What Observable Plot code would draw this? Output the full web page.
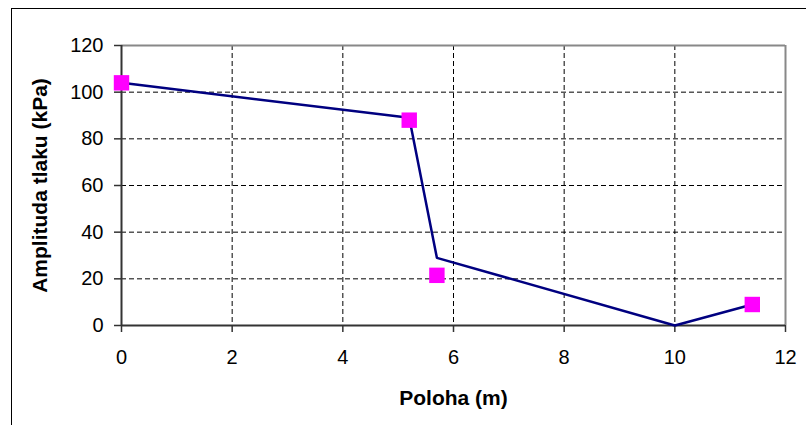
<!DOCTYPE html>
<html>
<head>
<meta charset="utf-8">
<script src="https://cdn.jsdelivr.net/npm/d3@7"></script>
<script src="https://cdn.jsdelivr.net/npm/@observablehq/plot@0.6"></script>
<style>
  html, body { margin: 0; padding: 0; background: #fff; overflow: hidden; }
  #wrap { position: relative; width: 806px; height: 425px; }
  #border { position: absolute; left: 11px; top: 8px; width: 900px; height: 600px;
            border-top: 1.5px solid #000; border-left: 1.5px solid #000; pointer-events: none; }
  g[aria-label="x-axis label"] text, g[aria-label="y-axis label"] text { font-weight: bold; font-size: 21px; }
</style>
</head>
<body>
<div id="wrap"><div id="border"></div></div>
<script>
const xTicks = [0, 2, 4, 6, 8, 10, 12];
const yTicks = [0, 20, 40, 60, 80, 100, 120];
// computed (line) series
const lineX = [0, 5.2, 5.7, 10, 11.4];
const lineY = [104, 89, 29, 0, 9];
// measured (marker) series
const markX = [0, 5.2, 5.7, 11.4];
const markY = [104, 88, 21.5, 9];

const lineData = lineX.map((x, i) => ({x, y: lineY[i]}));
const markData = markX.map((x, i) => ({x, y: markY[i]}));

const chart = Plot.plot({
  width: 806,
  height: 425,
  marginLeft: 121,
  marginRight: 21,
  marginTop: 45,
  marginBottom: 100,
  x: {domain: [0, 12]},
  y: {domain: [0, 120]},
  style: {fontFamily: "'Liberation Sans', Arial, sans-serif", fontSize: "20px", color: "#000", background: "transparent", overflow: "visible"},
  marks: [
    Plot.ruleX(xTicks.slice(1, -1), {stroke: "#000", strokeWidth: 1, strokeDasharray: "5,3"}),
    Plot.ruleY(yTicks.slice(1, -1), {stroke: "#000", strokeWidth: 1, strokeDasharray: "5,3"}),
    Plot.ruleY([120], {stroke: "#888", strokeWidth: 2}),
    Plot.ruleX([12], {stroke: "#888", strokeWidth: 2}),
    Plot.ruleX([0], {stroke: "#333", strokeWidth: 2}),
    Plot.ruleY([0], {stroke: "#333", strokeWidth: 2}),
    Plot.axisX({ticks: xTicks, tickSize: 7, tickPadding: 17, stroke: "#333", strokeWidth: 1.5,
      label: "Poloha (m)", labelAnchor: "center", labelArrow: "none", labelOffset: 79}),
    Plot.axisY({ticks: yTicks, tickSize: 7, tickPadding: 11, stroke: "#333", strokeWidth: 1.5,
      label: "Amplituda tlaku (kPa)", labelAnchor: "center", labelArrow: "none", labelOffset: 89}),
    Plot.line(lineData, {x: "x", y: "y", stroke: "#000080", strokeWidth: 2.5}),
    Plot.dot(markData, {x: "x", y: "y", symbol: "square", r: 8.7, fill: "#ff00ff", stroke: "none", clip: false})
  ]
});
document.getElementById("wrap").prepend(chart);
</script>
</body>
</html>
